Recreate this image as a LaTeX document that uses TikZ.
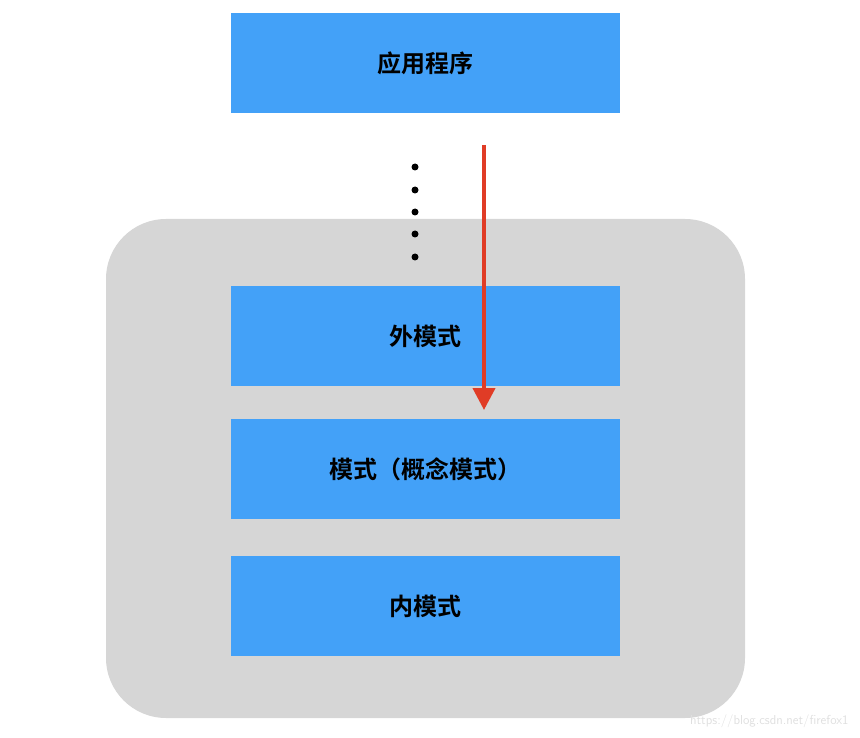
\documentclass[tikz,border=0pt]{standalone}
\usepackage{fontspec}
\newfontfamily\cjk{Noto Sans CJK SC Bold}
\usetikzlibrary{arrows.meta}
\definecolor{boxblue}{HTML}{43A1F8}
\definecolor{bggray}{HTML}{D6D6D6}
\definecolor{arrred}{HTML}{E03C26}
\begin{document}
\begin{tikzpicture}[x=1pt,y=-1pt,
  layer/.style={fill=boxblue,draw=none,minimum width=389pt,minimum height=100pt,inner sep=0pt,font=\cjk\fontsize{24}{28}\selectfont}]
\useasboundingbox (0,0) rectangle (860,738);
\fill[bggray,rounded corners=60pt] (106,219) rectangle (745,718);
\node[layer] (app) at (425.5,63) {应用程序};
\node[layer] (ext) at (425.5,336) {外模式};
\node[layer] (con) at (425.5,469) {模式（概念模式）};
\node[layer] (int) at (425.5,606) {内模式};
\foreach \y [count=\i] in {167,190,212,234,257} \fill (415,\y) circle (3.5pt) coordinate (d\i);
\coordinate (as) at (484,145);
\coordinate (ae) at (484,410);
\draw[arrred,line width=4pt,-{Triangle[length=22pt,width=22pt]}] (as) -- (ae);
\node[anchor=south east,text=white!75!gray,font=\fontsize{13}{15}\selectfont\sffamily] (wm) at (852,731) {https://blog.csdn.net/firefox1};
\end{tikzpicture}
\end{document}
